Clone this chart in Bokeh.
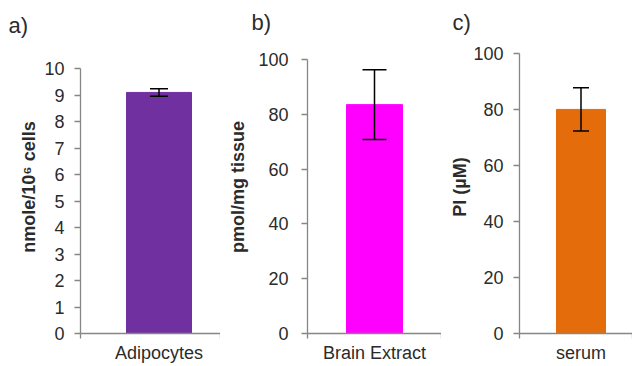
from bokeh.plotting import figure
from bokeh.models import Range1d, FixedTicker, Whisker, TeeHead, ColumnDataSource
from bokeh.layouts import row
from bokeh.embed import file_html
from bokeh.resources import INLINE

# ---- data ----
panel_tags = ["a)", "b)", "c)"]
categories = ["Adipocytes", "Brain Extract", "serum"]
values = [9.1, 83.5, 80.0]
errors = [0.14, 12.7, 7.7]
y_titles = ["nmole/10\u2076 cells", "pmol/mg tissue", "PI (\u00b5M)"]
y_max = [10, 100, 100]
y_step = [1, 20, 20]
colors = ["#7030A0", "#FF00FF", "#E46C0A"]

# ---- layout (pixels / styling only) ----
fig_w = [220, 221, 191]
fig_h = 366
border_left = [80, 87, 78]
border_top = 40
border_bottom = 33
# view extends above the last tick so each axis top sits where the reference has it
y_view_end = [11.06, 106.9, 104.6]
x_lo = [-1.208, -1.196, -1.255]
x_hi = [0.946, 1.196, 1.051]
tick_standoff = [10, 13, 10]
title_standoff = [2, 7, 0]
xlab_standoff = [4, 4, 4]
cap = [18, 24, 16]
tag_dx = [-72, -56, -67]
tag_gap = [6, 12, 12]

FONT = "Liberation Sans"
AX = "#868686"
TXT = "#2b2b2b"

figs = []
for i in range(3):
    p = figure(width=fig_w[i], height=fig_h, output_backend="svg", toolbar_location=None,
               x_range=Range1d(x_lo[i], x_hi[i]), y_range=Range1d(0, y_view_end[i]),
               min_border_left=border_left[i], min_border_right=0,
               min_border_top=border_top, min_border_bottom=border_bottom,
               title=panel_tags[i], title_location="above")
    p.outline_line_color = None
    p.grid.visible = False
    p.background_fill_color = "white"
    p.border_fill_color = None

    p.title.align = "left"
    p.title.vertical_align = "bottom"
    p.title.offset = tag_dx[i]
    p.title.standoff = tag_gap[i]
    p.title.text_font = FONT
    p.title.text_font_size = "22px"
    p.title.text_font_style = "normal"
    p.title.text_color = TXT

    src = ColumnDataSource(dict(x=[0], top=[values[i]],
                                upper=[values[i] + errors[i]],
                                lower=[values[i] - errors[i]]))
    p.vbar(x="x", top="top", width=1.0, source=src, fill_color=colors[i],
           line_color=colors[i], line_width=1)
    w = Whisker(base="x", upper="upper", lower="lower", source=src, level="overlay",
                line_color="black", line_width=1.5,
                upper_head=TeeHead(size=cap[i], line_color="black", line_width=1.5),
                lower_head=TeeHead(size=cap[i], line_color="black", line_width=1.5))
    p.add_layout(w)

    # y axis
    ya = p.yaxis[0]
    ya.bounds = (0, y_max[i])
    ya.ticker = FixedTicker(ticks=list(range(0, y_max[i] + 1, y_step[i])), minor_ticks=[])
    ya.axis_line_color = AX
    ya.axis_line_width = 1.3
    ya.major_tick_line_color = AX
    ya.major_tick_line_width = 1.3
    ya.major_tick_out = 6
    ya.major_tick_in = 0
    ya.minor_tick_line_color = None
    ya.major_label_text_font = FONT
    ya.major_label_text_font_size = "18px"
    ya.major_label_text_color = TXT
    ya.major_label_standoff = tick_standoff[i]
    ya.axis_label = y_titles[i]
    ya.axis_label_text_font = FONT
    ya.axis_label_text_font_size = "18px"
    ya.axis_label_text_font_style = "bold"
    ya.axis_label_text_color = TXT
    ya.axis_label_standoff = title_standoff[i]

    # x axis
    xa = p.xaxis[0]
    xa.ticker = FixedTicker(ticks=[0], minor_ticks=[x_lo[i], x_hi[i]])
    xa.major_label_overrides = {0: categories[i]}
    xa.axis_line_color = AX
    xa.axis_line_width = 1.3
    xa.major_tick_line_color = None
    xa.major_tick_out = 0
    xa.major_tick_in = 0
    xa.minor_tick_line_color = AX
    xa.minor_tick_line_width = 1.3
    xa.minor_tick_out = 5
    xa.minor_tick_in = 0
    xa.major_label_text_font = FONT
    xa.major_label_text_font_size = "18px"
    xa.major_label_text_color = TXT
    xa.major_label_standoff = xlab_standoff[i]

    figs.append(p)

layout = row(*figs, spacing=0)
open("out.html", "w").write(file_html(layout, INLINE))
